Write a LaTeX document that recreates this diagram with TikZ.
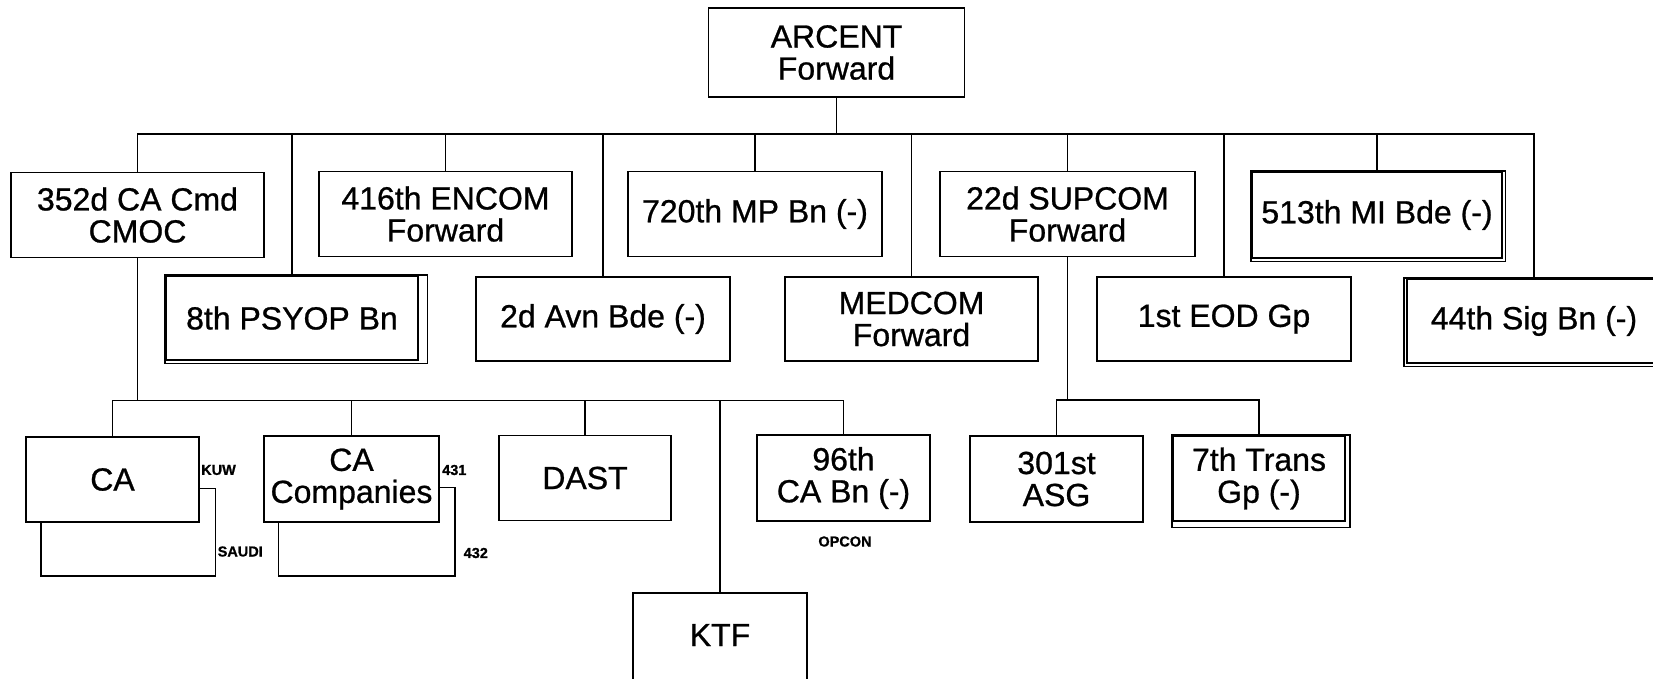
\documentclass[tikz,border=0pt]{standalone}
\usepackage{fontspec}
\setmainfont{Liberation Sans}[RawFeature={embolden=0.8}]
\usetikzlibrary{calc}
\begin{document}
\begin{tikzpicture}[x=1pt,y=-1pt,
  unit/.style={draw, line width=1.8pt, inner sep=0pt, align=center,
    font=\fontsize{32}{32}\selectfont},
  sz/.style 2 args={minimum width=#1pt, minimum height=#2pt},
  lbl/.style={inner sep=0pt, font=\bfseries\fontsize{14.5}{14.5}\selectfont},
  link/.style={line width=1.5pt},
  shad/.style={line width=1.8pt}]
\fill[white] (0,0) rectangle (1653,678);
\clip (0,0) rectangle (1653,678);

% top
\node[unit, sz={256}{89}] (arcent) at (836.5,52.5) {ARCENT\\Forward};

% row A
\node[unit, sz={253}{85}] (cmd352) at (137.5,215) {352d CA Cmd\\CMOC};
\node[unit, sz={253}{85}] (encom) at (445.5,214) {416th ENCOM\\Forward};
\node[unit, sz={254}{85}] (mp720) at (755,214) {720th MP Bn (-)};
\node[unit, sz={255}{85}] (supcom) at (1067.5,214) {22d SUPCOM\\Forward};
\node[unit, sz={250}{86}] (mi513) at (1377,215) {513th MI Bde (-)};

% row B
\node[unit, sz={252}{84}] (psyop8) at (292,318) {8th PSYOP Bn};
\node[unit, sz={254}{84}] (avn2) at (603,319) {2d Avn Bde (-)};
\node[unit, sz={253}{84}] (medcom) at (911.5,319) {MEDCOM\\Forward};
\node[unit, sz={254}{84}] (eod1) at (1224,319) {1st EOD Gp};
\node[unit, sz={254}{84}] (sig44) at (1534,321) {44th Sig Bn (-)};

% row C
\node[unit, sz={173}{85}] (ca) at (112.5,479.5) {CA};
\node[unit, sz={175}{86}] (cacos) at (351.5,479) {CA\\Companies};
\node[unit, sz={172}{85}] (dast) at (585,478) {DAST};
\node[unit, sz={173}{86}] (bn96) at (843.5,478) {96th\\CA Bn (-)};
\node[unit, sz={173}{86}] (asg301) at (1056.5,479) {301st\\ASG};
\node[unit, sz={172}{85}] (trans7) at (1259,478.5) {7th Trans\\Gp (-)};
\node[unit, sz={174}{90}] (ktf) at (720,638) {\raisebox{3pt}[\height][\depth]{KTF}};

% double-line (shadow) borders
\draw[shad] (mi513.north west) rectangle ($(mi513.south east)+(2.5,2.5)$);
\draw[shad] (psyop8.north west) rectangle ($(psyop8.south east)+(8.5,2.5)$);
\draw[shad] ($(sig44.north west)+(-2.5,0)$) rectangle ($(sig44.south east)+(0,2.5)$);
\draw[shad] (trans7.north west) rectangle ($(trans7.south east)+(4,5.5)$);

% small labels
\node[lbl, anchor=west] (kuw) at (201,470) {KUW};
\node[lbl, anchor=west] (saudi) at (217.5,551.5) {SAUDI};
\node[lbl, anchor=west] (l431) at (442,470) {431};
\node[lbl, anchor=west] (l432) at (463.5,553) {432};
\node[lbl] (opcon) at (845,541.5) {OPCON};

% bus coordinates
\coordinate (busA) at (836.5,134);
\coordinate (busB) at (0,400.7);
\coordinate (busC) at (0,400);
\coordinate (caB) at (215.5,576);
\coordinate (cosB) at (455,576);

% top-level tree
\draw[link] (arcent.south) -- (arcent.south |- busA);
\draw[link] (cmd352.north) -- (cmd352.north |- busA) -- (sig44.north |- busA) -- (sig44.north);
\foreach \n in {psyop8,encom,avn2,mp720,medcom,supcom,eod1,mi513}
  \draw[link] (\n.north) -- (\n.north |- busA);

% 352d subtree
\draw[link] (cmd352.south) -- (cmd352.south |- busB);
\draw[link] (ca.north) -- (ca.north |- busB) -- (bn96.north |- busB) -- (bn96.north);
\foreach \n in {cacos,dast,ktf}
  \draw[link] (\n.north) -- (\n.north |- busB);

% brackets
\draw[link] ($(ca.east)+(0,9)$) -| (caB) -| ($(ca.south west)+(15.7,0)$);
\draw[link] ($(cacos.east)+(0,8.5)$) -| (cosB) -| ($(cacos.south west)+(15.3,0)$);

% SUPCOM subtree
\draw[link] (supcom.south) -- (supcom.south |- busC);
\draw[link] (asg301.north) -- (asg301.north |- busC) -- (trans7.north |- busC) -- (trans7.north);
\end{tikzpicture}
\end{document}
